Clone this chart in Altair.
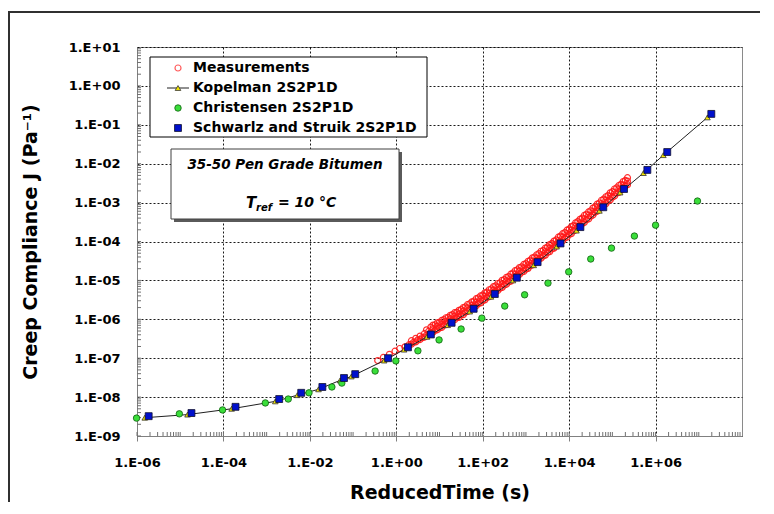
import altair as alt
import pandas as pd

FONT = "DejaVu Sans"

# ---------------- data (log10 values) ----------------
# Measurements (dense band of open red circles)
meas_early_logt = [-0.43, -0.30, -0.16, -0.03, 0.08]
meas_early_logJ = [-7.06, -6.98, -6.90, -6.82, -6.75]

meas_lo_logt = [0.2, 0.3, 0.4, 0.5, 0.6, 0.7, 0.8, 0.9, 1.0, 1.1, 1.2, 1.3, 1.4, 1.5,
                1.6, 1.7, 1.8, 1.9, 2.0, 2.1, 2.2, 2.3, 2.4, 2.5, 2.6, 2.7, 2.8, 2.9,
                3.0, 3.1, 3.2, 3.3, 3.4, 3.5, 3.6, 3.7, 3.8, 3.9, 4.0, 4.1, 4.2, 4.3,
                4.4, 4.5, 4.6, 4.7, 4.8, 4.9, 5.0, 5.1, 5.2, 5.3]
meas_lo_logJ = [-6.71, -6.65, -6.59, -6.53, -6.47, -6.41, -6.34, -6.28, -6.22, -6.15,
                -6.09, -6.02, -5.96, -5.89, -5.82, -5.74, -5.67, -5.59, -5.52, -5.44,
                -5.36, -5.28, -5.20, -5.12, -5.04, -4.95, -4.87, -4.79, -4.71, -4.62,
                -4.54, -4.45, -4.37, -4.28, -4.19, -4.10, -4.00, -3.91, -3.82, -3.73,
                -3.63, -3.54, -3.44, -3.35, -3.25, -3.15, -3.05, -2.96, -2.86, -2.76,
                -2.67, -2.57]

meas_mid_logt = [0.35, 0.45, 0.55, 0.65, 0.75, 0.85, 0.95, 1.05, 1.15, 1.25,
                 1.35, 1.45, 1.55, 1.65, 1.75, 1.85, 1.95, 2.05, 2.15, 2.25, 2.35, 2.45,
                 2.55, 2.65, 2.75, 2.85, 2.95, 3.05, 3.15, 3.25, 3.35, 3.45, 3.55, 3.65,
                 3.75, 3.85, 3.95, 4.05, 4.15, 4.25, 4.35, 4.45, 4.55, 4.65, 4.75, 4.85,
                 4.95, 5.05, 5.15, 5.25, 5.35]
meas_mid_logJ = [-6.55, -6.49, -6.43, -6.37, -6.31, -6.24, -6.18, -6.12,
                 -6.05, -5.99, -5.92, -5.86, -5.79, -5.71, -5.64, -5.56, -5.49, -5.41,
                 -5.33, -5.25, -5.17, -5.09, -5.01, -4.93, -4.84, -4.76, -4.68, -4.60,
                 -4.51, -4.43, -4.34, -4.26, -4.17, -4.08, -3.98, -3.89, -3.80, -3.71,
                 -3.61, -3.52, -3.42, -3.33, -3.23, -3.13, -3.03, -2.94, -2.84, -2.74,
                 -2.65, -2.55, -2.45]
meas_midlo_logJ = [-6.64, -6.58, -6.52, -6.46, -6.40, -6.33, -6.27, -6.21, -6.14, -6.08,
                   -6.01, -5.95, -5.88, -5.80, -5.73, -5.65, -5.58, -5.50, -5.42, -5.34,
                   -5.26, -5.18, -5.10, -5.02, -4.93, -4.85, -4.77, -4.69, -4.60, -4.52,
                   -4.43, -4.35, -4.26, -4.17, -4.07, -3.98, -3.89, -3.80, -3.70, -3.61,
                   -3.51, -3.42, -3.32, -3.22, -3.12, -3.03, -2.93, -2.83, -2.74, -2.64,
                   -2.54]

meas_midhi_logt = [0.85, 0.95, 1.05, 1.15, 1.25, 1.35, 1.45, 1.55, 1.65, 1.75, 1.85,
                   1.95, 2.05, 2.15, 2.25, 2.35, 2.45, 2.55, 2.65, 2.75, 2.85, 2.95,
                   3.05, 3.15, 3.25, 3.35, 3.45, 3.55, 3.65, 3.75, 3.85, 3.95, 4.05,
                   4.15, 4.25, 4.35, 4.45, 4.55, 4.65, 4.75, 4.85, 4.95, 5.05, 5.15,
                   5.25, 5.35]
meas_midhi_logJ = [-6.15, -6.09, -6.03, -5.96, -5.90, -5.83, -5.77, -5.70, -5.62, -5.55,
                   -5.47, -5.40, -5.32, -5.24, -5.16, -5.08, -5.00, -4.92, -4.84, -4.75,
                   -4.67, -4.59, -4.51, -4.42, -4.34, -4.25, -4.17, -4.08, -3.99, -3.89,
                   -3.80, -3.71, -3.62, -3.52, -3.43, -3.33, -3.24, -3.14, -3.04, -2.94,
                   -2.85, -2.75, -2.65, -2.56, -2.46, -2.36]

meas_hi_logt = [0.7, 0.8, 0.9, 1.0, 1.1, 1.2, 1.3, 1.4, 1.5,
                1.6, 1.7, 1.8, 1.9, 2.0, 2.1, 2.2, 2.3, 2.4, 2.5, 2.6, 2.7, 2.8, 2.9,
                3.0, 3.1, 3.2, 3.3, 3.4, 3.5, 3.6, 3.7, 3.8, 3.9, 4.0, 4.1, 4.2, 4.3,
                4.4, 4.5, 4.6, 4.7, 4.8, 4.9, 5.0, 5.1, 5.2, 5.3]
meas_hi_logJ = [-6.27, -6.20, -6.14, -6.08, -6.01, -5.95, -5.88, -5.82, -5.75,
                -5.68, -5.60, -5.53, -5.45, -5.38, -5.30, -5.22, -5.14, -5.06, -4.98,
                -4.90, -4.81, -4.73, -4.65, -4.57, -4.48, -4.40, -4.31, -4.23, -4.14,
                -4.05, -3.96, -3.86, -3.77, -3.68, -3.59, -3.49, -3.40, -3.30, -3.21,
                -3.11, -3.01, -2.91, -2.82, -2.72, -2.62, -2.53, -2.43]

# Kopelman 2S2P1D (line + yellow triangles)
kop_logt = [-5.82, -4.83, -3.81, -2.80, -2.29, -1.80, -1.30, -1.04, -0.28, 0.18, 0.71,
            1.19, 1.70, 2.19, 2.70, 3.18, 3.71, 4.17, 4.70, 5.18, 5.72, 6.18, 7.20]
kop_logJ = [-8.53, -8.45, -8.30, -8.11, -7.95, -7.80, -7.57, -7.47, -7.06, -6.78, -6.45,
            -6.15, -5.80, -5.42, -5.00, -4.61, -4.13, -3.72, -3.21, -2.74, -2.24, -1.78, -0.81]

# Christensen 2S2P1D (green circles)
chr_logt = [-6.01, -5.02, -4.02, -3.03, -2.50, -2.02, -1.49, -1.26, -0.49, -0.01, 0.50,
            0.99, 1.50, 1.98, 2.51, 2.97, 3.51, 3.99, 4.50, 4.98, 5.51, 6.00, 6.97]
chr_logJ = [-8.54, -8.43, -8.33, -8.15, -8.05, -7.89, -7.74, -7.64, -7.33, -7.07, -6.81,
            -6.53, -6.25, -5.97, -5.66, -5.37, -5.07, -4.78, -4.45, -4.17, -3.86, -3.58, -2.96]

# Schwarlz and Struik 2S2P1D (blue squares)
sch_logt = [-5.73, -4.74, -3.72, -2.71, -2.20, -1.71, -1.21, -0.95, -0.19, 0.27, 0.80,
            1.28, 1.79, 2.28, 2.79, 3.27, 3.80, 4.26, 4.79, 5.27, 5.81, 6.27, 7.29]
sch_logJ = [-8.49, -8.41, -8.25, -8.05, -7.89, -7.74, -7.51, -7.41, -7.00, -6.72, -6.39,
            -6.09, -5.73, -5.35, -4.93, -4.53, -4.05, -3.63, -3.12, -2.65, -2.16, -1.70, -0.72]

x_tick_values = [1e-6, 1e-4, 1e-2, 1e0, 1e2, 1e4, 1e6]
y_tick_values = [1e-9, 1e-8, 1e-7, 1e-6, 1e-5, 1e-4, 1e-3, 1e-2, 1e-1, 1e0, 1e1]

legend_labels = ["Measurements", "Kopelman 2S2P1D", "Christensen 2S2P1D",
                 "Schwarlz and Struik 2S2P1D"]
note_line1 = "35-50 Pen Grade Bitumen"
note_T, note_sub, note_rest = "T", "ref", "= 10 °C"
x_title = "ReducedTime (s)"
y_title = "Creep Compliance J (Pa⁻¹)"


def to_df(logt, logj):
    return pd.DataFrame({"t": [10 ** v for v in logt], "J": [10 ** v for v in logj]})


meas_df = pd.concat([to_df(meas_early_logt, meas_early_logJ),
                     to_df(meas_lo_logt, meas_lo_logJ),
                     to_df(meas_mid_logt, meas_midlo_logJ),
                     to_df(meas_mid_logt, meas_mid_logJ),
                     to_df(meas_midhi_logt, meas_midhi_logJ),
                     to_df(meas_hi_logt, meas_hi_logJ)], ignore_index=True)
kop_df = to_df(kop_logt, kop_logJ)
chr_df = to_df(chr_logt, chr_logJ)
sch_df = to_df(sch_logt, sch_logJ)

x_minor = pd.DataFrame({"t": [k * 10.0 ** n for n in range(-6, 8) for k in range(1, 10)]})
y_minor = pd.DataFrame({"J": [k * 10.0 ** n for n in range(-9, 1) for k in range(1, 10)]})
one = pd.DataFrame({"a": [0]})

W, H = 605, 389
xs = alt.Scale(type="log", domain=[1e-6, 1e8], nice=False)
ys = alt.Scale(type="log", domain=[1e-9, 1e1], nice=False)

label_expr = ("'1.E' + (datum.value >= 1 ? '+' : '-') + "
              "(abs(round(log(datum.value)/LN10)) < 10 ? '0' : '') + "
              "abs(round(log(datum.value)/LN10))")

x_axis = alt.Axis(values=x_tick_values, labelExpr=label_expr, title=x_title,
                  grid=True, gridColor="#000000", gridDash=[2, 2], gridOpacity=0.9,
                  tickSize=5, tickColor="#808080", domainColor="#808080",
                  labelFont=FONT, labelFontWeight="bold", labelFontSize=13,
                  labelColor="#000000", labelPadding=15, labelFlush=False,
                  titleFont=FONT, titleFontWeight="bold", titleFontSize=19,
                  titleColor="#000000", titleX=W / 2, titleY=56,
                  titleBaseline="middle", titleAlign="center")
y_axis = alt.Axis(values=y_tick_values, labelExpr=label_expr, title=y_title,
                  grid=True, gridColor="#000000", gridDash=[2, 2], gridOpacity=0.9,
                  ticks=False, domainColor="#808080",
                  labelFont=FONT, labelFontWeight="bold", labelFontSize=13,
                  labelColor="#000000", labelPadding=17, labelFlush=False,
                  titleFont=FONT, titleFontWeight="bold", titleFontSize=19,
                  titleColor="#000000", titleX=-107, titleY=H / 2,
                  titleAngle=270, titleBaseline="middle", titleAlign="center")

# minor ticks (inside)
xminor_layer = alt.Chart(x_minor).mark_rule(color="#707070", strokeWidth=1).encode(
    x=alt.X("t:Q", scale=xs, axis=x_axis), y=alt.value(H), y2=alt.value(H - 4))
yminor_layer = alt.Chart(y_minor).mark_rule(color="#707070", strokeWidth=1).encode(
    y=alt.Y("J:Q", scale=ys, axis=y_axis), x=alt.value(0), x2=alt.value(4))

# annotation box
note_shadow = alt.Chart(one).mark_rect(fill="#5a5a5a").encode(
    x=alt.value(37), x2=alt.value(265), y=alt.value(105), y2=alt.value(175))
note_box = alt.Chart(one).mark_rect(fill="white", stroke="#404040", strokeWidth=1).encode(
    x=alt.value(34), x2=alt.value(262), y=alt.value(102), y2=alt.value(172))
note_t1 = alt.Chart(one).mark_text(text=note_line1, font=FONT, fontWeight="bold",
                                   fontStyle="italic", fontSize=13.5, align="center",
                                   baseline="middle", color="black").encode(
    x=alt.value(148), y=alt.value(118))
note_t2 = alt.Chart(one).mark_text(text=note_T, font=FONT, fontWeight="bold",
                                   fontStyle="italic", fontSize=15, align="left",
                                   baseline="middle", color="black").encode(
    x=alt.value(109), y=alt.value(156))
note_t3 = alt.Chart(one).mark_text(text=note_sub, font=FONT, fontWeight="bold",
                                   fontStyle="italic", fontSize=10, align="left",
                                   baseline="middle", color="black").encode(
    x=alt.value(119), y=alt.value(161))
note_t4 = alt.Chart(one).mark_text(text=note_rest, font=FONT, fontWeight="bold",
                                   fontStyle="italic", fontSize=14, align="left",
                                   baseline="middle", color="black").encode(
    x=alt.value(141), y=alt.value(156))

# data layers
meas_layer = alt.Chart(meas_df).mark_point(shape="circle", filled=False, size=36,
                                           strokeWidth=1.2, color="#ff1a1a", opacity=0.9).encode(
    x=alt.X("t:Q", scale=xs), y=alt.Y("J:Q", scale=ys))
kop_line = alt.Chart(kop_df).mark_line(color="#202020", strokeWidth=1).encode(
    x=alt.X("t:Q", scale=xs), y=alt.Y("J:Q", scale=ys))
kop_pts = alt.Chart(kop_df).mark_point(shape="triangle-up", filled=True, size=32,
                                       fill="#f5e800", stroke="#333333", strokeWidth=0.8,
                                       opacity=1).encode(
    x=alt.X("t:Q", scale=xs), y=alt.Y("J:Q", scale=ys))
chr_pts = alt.Chart(chr_df).mark_point(shape="circle", filled=True, size=42,
                                       fill="#3ade3a", stroke="#106010", strokeWidth=0.8,
                                       opacity=1).encode(
    x=alt.X("t:Q", scale=xs), y=alt.Y("J:Q", scale=ys))
sch_pts = alt.Chart(sch_df).mark_point(shape="square", filled=True, size=48,
                                       fill="#0010cc", stroke="#101030", strokeWidth=0.8,
                                       opacity=1).encode(
    x=alt.X("t:Q", scale=xs), y=alt.Y("J:Q", scale=ys))

# legend (drawn by hand)
LX0, LX1, LY0, LY1 = 13, 290, 10, 90
rows = [21, 41, 61, 81]
SYMX, TXTX = 41, 56
leg_box = alt.Chart(one).mark_rect(fill="white", stroke="#000000", strokeWidth=1).encode(
    x=alt.value(LX0), x2=alt.value(LX1), y=alt.value(LY0), y2=alt.value(LY1))
leg_layers = [leg_box]
leg_layers.append(alt.Chart(one).mark_point(shape="circle", filled=False, size=36,
                                            strokeWidth=1.2, color="#ff1a1a").encode(
    x=alt.value(SYMX), y=alt.value(rows[0])))
leg_layers.append(alt.Chart(one).mark_rule(color="#202020", strokeWidth=1).encode(
    x=alt.value(SYMX - 11), x2=alt.value(SYMX + 11), y=alt.value(rows[1])))
leg_layers.append(alt.Chart(one).mark_point(shape="triangle-up", filled=True, size=32,
                                            fill="#f5e800", stroke="#333333",
                                            strokeWidth=0.8, opacity=1).encode(
    x=alt.value(SYMX), y=alt.value(rows[1])))
leg_layers.append(alt.Chart(one).mark_point(shape="circle", filled=True, size=42,
                                            fill="#3ade3a", stroke="#106010",
                                            strokeWidth=0.8, opacity=1).encode(
    x=alt.value(SYMX), y=alt.value(rows[2])))
leg_layers.append(alt.Chart(one).mark_point(shape="square", filled=True, size=48,
                                            fill="#0010cc", stroke="#101030",
                                            strokeWidth=0.8, opacity=1).encode(
    x=alt.value(SYMX), y=alt.value(rows[3])))
for lab, ry in zip(legend_labels, rows):
    leg_layers.append(alt.Chart(one).mark_text(text=lab, font=FONT, fontWeight="bold",
                                               fontSize=14, align="left", baseline="middle",
                                               color="black").encode(
        x=alt.value(TXTX), y=alt.value(ry)))

# outer frame of the picture
frame = alt.Chart(one).mark_rect(fillOpacity=0, stroke="#303030", strokeWidth=2).encode(
    x=alt.value(-128), x2=alt.value(700), y=alt.value(-35), y2=alt.value(520))

chart = alt.layer(
    xminor_layer, yminor_layer,
    note_shadow, note_box, note_t1, note_t2, note_t3, note_t4,
    meas_layer, kop_line, kop_pts, chr_pts, sch_pts,
    *leg_layers, frame
).properties(
    width=W, height=H,
    autosize=alt.AutoSizeParams(type="none"),
    padding={"left": 129, "top": 39, "right": 18, "bottom": 66},
).configure_view(stroke="#8a8a8a", strokeWidth=1)

chart.save("out.html", embed_options={"renderer": "svg", "actions": False})
